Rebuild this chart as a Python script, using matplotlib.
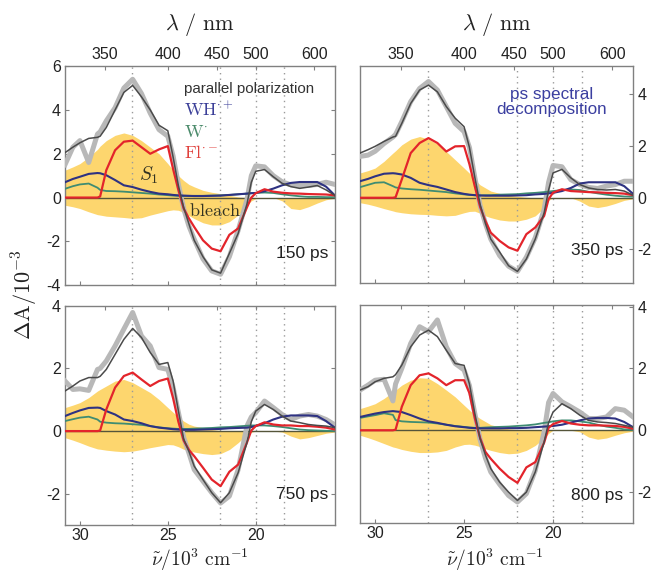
import numpy as np
import matplotlib
matplotlib.use('Agg')
import matplotlib.pyplot as plt

plt.rcParams['mathtext.fontset'] = 'cm'
plt.rcParams['font.family'] = ['Liberation Sans', 'DejaVu Sans']
plt.rcParams['axes.unicode_minus'] = False

# wavenumber grid, 10^3 cm^-1
wavenumber = [30.85, 30.4, 30.0, 29.5, 29.0, 28.85, 28.5, 28.0, 27.5, 27.0, 26.5, 26.0,
              25.5, 25.0, 24.7, 24.4, 24.1, 23.8, 23.5, 23.0, 22.5, 22.0, 21.5, 21.0,
              20.5, 20.25, 20.0, 19.5, 19.0, 18.5, 18.0, 17.5, 17.0, 16.5, 16.0, 15.5]

# ---- 150 ps ----
data_150 = [1.5, 2.3, 2.6, 1.6, 2.9, 3.0, 3.5, 4.1, 5.0, 5.4, 4.75, 3.85, 3.1, 2.8, 1.9, 0.6,
            -0.5, -1.3, -1.9, -2.8, -3.35, -3.5, -2.7, -1.5, -0.1, 1.0, 1.45, 1.4, 1.0, 0.72,
            0.58, 0.55, 0.55, 0.6, 0.7, 0.6]
fit_150 = [2.05, 2.3, 2.5, 2.7, 2.75, 2.8, 3.2, 4.0, 4.8, 5.12, 4.6, 4.0, 3.3, 3.05, 1.85, 0.55,
           -0.45, -1.2, -1.95, -2.7, -3.3, -3.45, -2.55, -1.64, -0.3, 0.7, 1.2, 1.28, 0.95, 0.65,
           0.5, 0.42, 0.48, 0.55, 0.35, 0.1]
fl_150 = [0, 0, 0, 0, 0, 0.05, 1.25, 2.16, 2.55, 2.6, 2.3, 2.0, 2.2, 2.35, 1.3, 0.35,
          -0.5, -0.95, -1.34, -1.95, -2.33, -2.45, -1.7, -1.41, -0.45, 0.0, 0.2, 0.38, 0.27, 0.22,
          0.19, 0.18, 0.16, 0.15, 0.14, 0.1]
wh_150 = [0.7, 0.85, 0.95, 1.08, 1.12, 1.11, 1.02, 0.8, 0.56, 0.48, 0.36, 0.26, 0.18, 0.15, 0.12, 0.1,
          0.09, 0.08, 0.07, 0.07, 0.08, 0.09, 0.12, 0.15, 0.18, 0.2, 0.21, 0.29, 0.41, 0.56,
          0.67, 0.71, 0.71, 0.71, 0.5, 0.1]
w_150 = [0.4, 0.52, 0.6, 0.64, 0.45, 0.35, 0.3, 0.29, 0.27, 0.24, 0.21, 0.18, 0.14, 0.11, 0.09, 0.08,
         0.07, 0.07, 0.08, 0.08, 0.09, 0.1, 0.12, 0.15, 0.18, 0.2, 0.21, 0.23, 0.21, 0.15,
         0.1, 0.06, 0.03, 0.03, 0.02, 0.02]
s1_150 = [1.25, 1.4, 1.55, 1.85, 2.2, 2.35, 2.6, 2.84, 2.95, 2.84, 2.6, 2.3, 2.0, 1.55, 1.25, 1.0,
          0.78, 0.6, 0.49, 0.33, 0.24, 0.18, 0.1, 0.03, 0, 0, 0, 0, 0, 0, 0, 0, 0, 0, 0, 0]
bleach_150 = [-0.35, -0.42, -0.5, -0.65, -0.78, -0.8, -0.85, -0.88, -0.91, -0.95, -0.92, -0.8, -0.7,
              -0.6, -0.56, -0.58, -0.68, -0.82, -0.96, -1.15, -1.25, -1.25, -1.1, -0.8, -0.35,
              -0.15, -0.05, 0, 0, -0.15, -0.5, -0.55, -0.42, -0.25, -0.1, -0.03]

# ---- 350 ps ----
data_350 = [1.6, 1.65, 1.8, 2.1, 2.35, 2.45, 2.95, 3.72, 4.23, 4.5, 4.17, 3.53, 2.88, 2.56, 1.95, 0.8,
            -0.3, -1.0, -1.6, -2.24, -2.65, -2.85, -2.3, -1.55, -0.45, 0.6, 1.25, 1.2, 0.7, 0.51,
            0.4, 0.36, 0.45, 0.51, 0.64, 0.64]
fit_350 = [1.73, 1.86, 1.99, 2.18, 2.35, 2.38, 2.88, 3.65, 4.17, 4.36, 4.1, 3.53, 3.08, 2.75, 1.95, 0.8,
           -0.25, -1.0, -1.6, -2.1, -2.63, -2.85, -2.37, -1.6, -0.58, 0.3, 0.96, 1.1, 0.77, 0.51,
           0.38, 0.32, 0.3, 0.32, 0.26, 0.1]
fl_350 = [0, 0, 0, 0, 0, 0.02, 0.71, 1.73, 2.12, 2.31, 2.12, 1.79, 1.99, 2.0, 1.3, 0.45,
          -0.35, -0.9, -1.35, -1.67, -1.92, -2.05, -1.41, -1.15, -0.7, -0.05, 0.2, 0.33, 0.26, 0.24,
          0.22, 0.21, 0.19, 0.18, 0.16, 0.1]
wh_350 = [0.64, 0.73, 0.83, 0.93, 0.95, 0.94, 0.9, 0.77, 0.58, 0.49, 0.42, 0.32, 0.22, 0.15, 0.12, 0.1,
          0.09, 0.08, 0.08, 0.08, 0.08, 0.09, 0.1, 0.13, 0.15, 0.17, 0.19, 0.26, 0.38, 0.55,
          0.6, 0.6, 0.6, 0.6, 0.45, 0.15]
w_350 = [0.41, 0.5, 0.58, 0.6, 0.45, 0.4, 0.36, 0.33, 0.31, 0.28, 0.25, 0.22, 0.17, 0.13, 0.11, 0.1,
         0.09, 0.1, 0.1, 0.12, 0.13, 0.14, 0.17, 0.19, 0.22, 0.24, 0.26, 0.3, 0.32, 0.3,
         0.23, 0.17, 0.12, 0.08, 0.05, 0.04]
s1_350 = [0.96, 1.05, 1.15, 1.41, 1.73, 1.82, 2.05, 2.27, 2.37, 2.27, 2.08, 1.79, 1.47, 1.15, 0.95, 0.7,
          0.5, 0.38, 0.26, 0.17, 0.1, 0.06, 0.02, 0, 0, 0, 0, 0, 0, 0, 0, 0, 0, 0, 0, 0]
bleach_350 = [-0.19, -0.25, -0.32, -0.42, -0.51, -0.54, -0.58, -0.62, -0.64, -0.65, -0.68, -0.7, -0.68,
              -0.58, -0.53, -0.52, -0.6, -0.7, -0.77, -0.86, -0.9, -0.9, -0.83, -0.7, -0.38,
              -0.1, 0, 0, 0, -0.13, -0.32, -0.38, -0.32, -0.22, -0.1, -0.04]

# ---- 750 ps ----
data_750 = [1.6, 1.33, 1.35, 1.3, 1.97, 2.0, 2.24, 2.72, 3.26, 3.79, 3.04, 2.72, 2.03, 1.97, 1.4, 0.6,
            -0.2, -0.7, -1.23, -1.6, -1.97, -2.3, -2.08, -1.23, 0.16, 0.45, 0.59, 0.96, 0.75, 0.53,
            0.37, 0.48, 0.53, 0.48, 0.37, 0.2]
fit_750 = [1.28, 1.44, 1.6, 1.71, 1.71, 1.75, 1.97, 2.45, 2.93, 3.28, 2.99, 2.51, 2.13, 2.19, 1.6, 0.65,
           -0.25, -0.65, -1.12, -1.55, -1.97, -2.29, -1.97, -1.33, -0.37, 0.3, 0.64, 0.85, 0.69, 0.48,
           0.32, 0.27, 0.21, 0.18, 0.16, 0.11]
fl_750 = [0, 0, 0, 0, 0, 0.02, 0.69, 1.39, 1.76, 1.87, 1.65, 1.44, 1.6, 1.68, 1.05, 0.3,
          -0.3, -0.6, -0.8, -1.17, -1.55, -1.76, -1.3, -1.07, -0.37, 0.02, 0.16, 0.28, 0.21, 0.18,
          0.18, 0.16, 0.16, 0.14, 0.11, 0.05]
wh_750 = [0.48, 0.58, 0.66, 0.74, 0.75, 0.74, 0.64, 0.53, 0.37, 0.32, 0.25, 0.16, 0.11, 0.08, 0.06, 0.05,
          0.04, 0.04, 0.04, 0.05, 0.06, 0.07, 0.09, 0.1, 0.11, 0.13, 0.16, 0.25, 0.37, 0.46,
          0.5, 0.5, 0.5, 0.48, 0.32, 0.11]
w_750 = [0.32, 0.38, 0.43, 0.46, 0.37, 0.3, 0.27, 0.25, 0.24, 0.22, 0.2, 0.16, 0.12, 0.09, 0.08, 0.07,
         0.07, 0.07, 0.08, 0.09, 0.1, 0.12, 0.13, 0.15, 0.17, 0.18, 0.18, 0.18, 0.16, 0.13,
         0.09, 0.05, 0.03, 0.02, 0.01, 0.0]
s1_750 = [0.75, 0.83, 0.91, 1.07, 1.28, 1.33, 1.44, 1.6, 1.65, 1.55, 1.39, 1.23, 1.01, 0.75, 0.6, 0.45,
          0.32, 0.22, 0.16, 0.11, 0.05, 0.02, 0, 0, 0, 0, 0, 0, 0, 0, 0, 0, 0, 0, 0, 0]
bleach_750 = [-0.21, -0.29, -0.37, -0.48, -0.57, -0.58, -0.61, -0.64, -0.66, -0.64, -0.59, -0.53, -0.48,
              -0.43, -0.44, -0.5, -0.58, -0.63, -0.67, -0.72, -0.75, -0.72, -0.59, -0.37, -0.11,
              -0.04, 0, 0, 0, -0.03, -0.16, -0.25, -0.21, -0.14, -0.07, -0.03]

# ---- 800 ps ----
data_800 = [1.3, 1.46, 1.62, 1.65, 0.95, 1.5, 2.0, 2.81, 3.35, 3.19, 3.57, 2.7, 2.16, 1.95, 1.45, 0.55,
            -0.3, -0.9, -1.35, -1.75, -2.11, -2.32, -2.05, -1.3, -0.05, 0.9, 1.19, 0.92, 0.76, 0.59,
            0.38, 0.38, 0.43, 0.7, 0.65, 0.43]
fit_800 = [1.3, 1.41, 1.57, 1.68, 1.73, 1.8, 2.11, 2.7, 3.08, 3.24, 3.03, 2.59, 2.16, 2.1, 1.5, 0.55,
           -0.27, -0.8, -1.24, -1.68, -2.0, -2.27, -2.0, -1.35, -0.38, 0.25, 0.59, 0.86, 0.7, 0.49,
           0.32, 0.27, 0.25, 0.22, 0.16, 0.1]
fl_800 = [0, 0, 0, 0, 0, 0.02, 0.76, 1.46, 1.78, 1.84, 1.68, 1.46, 1.62, 1.62, 1.2, 0.4,
          -0.25, -0.7, -0.92, -1.24, -1.51, -1.7, -1.2, -1.03, -0.4, 0.08, 0.2, 0.3, 0.22, 0.18,
          0.16, 0.16, 0.15, 0.14, 0.11, 0.05]
wh_800 = [0.43, 0.49, 0.54, 0.59, 0.62, 0.61, 0.59, 0.49, 0.38, 0.29, 0.24, 0.18, 0.13, 0.1, 0.08, 0.07,
          0.06, 0.06, 0.06, 0.06, 0.07, 0.07, 0.08, 0.1, 0.12, 0.13, 0.14, 0.18, 0.25, 0.32,
          0.38, 0.4, 0.4, 0.38, 0.27, 0.1]
w_800 = [0.4, 0.45, 0.49, 0.55, 0.5, 0.33, 0.29, 0.27, 0.26, 0.25, 0.22, 0.18, 0.14, 0.11, 0.09, 0.08,
         0.08, 0.09, 0.1, 0.11, 0.12, 0.14, 0.16, 0.19, 0.24, 0.26, 0.29, 0.32, 0.32, 0.29,
         0.25, 0.18, 0.12, 0.08, 0.03, 0.01]
s1_800 = [0.7, 0.78, 0.86, 1.03, 1.24, 1.3, 1.46, 1.62, 1.7, 1.68, 1.51, 1.3, 1.08, 0.81, 0.65, 0.5,
          0.38, 0.28, 0.18, 0.11, 0.05, 0.02, 0, 0, 0, 0, 0, 0, 0, 0, 0, 0, 0, 0, 0, 0]
bleach_800 = [-0.16, -0.24, -0.32, -0.43, -0.54, -0.56, -0.62, -0.68, -0.72, -0.72, -0.7, -0.65, -0.54,
              -0.46, -0.45, -0.48, -0.53, -0.6, -0.65, -0.72, -0.76, -0.74, -0.65, -0.49, -0.25,
              -0.1, 0, 0, 0, -0.05, -0.22, -0.29, -0.25, -0.16, -0.08, -0.03]

delays = ['150 ps', '350 ps', '750 ps', '800 ps']
lambda_ticks = [350, 400, 450, 500, 600]
wn_ticks = [30, 25, 20]
marker_lines = [27.05, 22.05, 20.0, 18.4]

YELLOW = '#fdd66e'
GREY_DATA = '#b8b8b8'
FIT = '#4a4a4a'
RED = '#e3242b'
BLUE = '#2e3282'
GREEN = '#3f8c72'
SPINE = '#808080'
TXT = '#222222'

fig = plt.figure(figsize=(6.55, 5.75), dpi=100)
positions = [[0.0992, 0.504, 0.412, 0.381],
             [0.5496, 0.5078, 0.417, 0.3774],
             [0.0992, 0.087, 0.412, 0.381],
             [0.5496, 0.0904, 0.417, 0.379]]
ylims = [(-4, 6), (-3.3, 5.1), (-3, 4), (-3, 4.05)]
yticks = [[-4, -2, 0, 2, 4, 6], [-2, 0, 2, 4], [-2, 0, 2, 4], [-2, 0, 2, 4]]
series = [(data_150, fit_150, fl_150, wh_150, w_150, s1_150, bleach_150),
          (data_350, fit_350, fl_350, wh_350, w_350, s1_350, bleach_350),
          (data_750, fit_750, fl_750, wh_750, w_750, s1_750, bleach_750),
          (data_800, fit_800, fl_800, wh_800, w_800, s1_800, bleach_800)]
label_pos = [(0.975, 0.146), (0.963, 0.152), (0.975, 0.137), (0.963, 0.128)]

axes = []
for i in range(4):
    ax = fig.add_axes(positions[i])
    axes.append(ax)
    data, fit, fl, wh, w, s1, bl = series[i]
    ax.fill_between(wavenumber, bl, s1, color=YELLOW, lw=0, zorder=1)
    ax.axhline(0, color='#55553a', lw=1.0, zorder=2)
    for xv in marker_lines:
        ax.axvline(xv, color='#9a9a9a', ls=(0, (1, 3)), lw=1.0, zorder=1.5)
    ax.plot(wavenumber, data, color=GREY_DATA, lw=3.6, zorder=3, solid_joinstyle='round')
    ax.plot(wavenumber, w, color=GREEN, lw=1.3, zorder=4)
    ax.plot(wavenumber, wh, color=BLUE, lw=1.5, zorder=4)
    ax.plot(wavenumber, fl, color=RED, lw=1.6, zorder=5)
    ax.plot(wavenumber, fit, color=FIT, lw=1.1, zorder=6)
    ax.set_xlim(30.85, 15.5)
    ax.set_ylim(*ylims[i])
    ax.set_yticks(yticks[i])
    ax.set_xticks(wn_ticks)
    for s in ax.spines.values():
        s.set_color(SPINE)
        s.set_linewidth(1.0)
    ax.tick_params(direction='in', length=3, color=SPINE, labelsize=11.5,
                   labelcolor=TXT, pad=3, top=False, right=(i % 2 == 0), left=(i % 2 == 0))
    ax.tick_params(axis='x', pad=2)
    if i % 2 == 1:
        ax.yaxis.tick_right()
        ax.tick_params(axis='y', direction='in', length=3, color=SPINE, pad=3)
    if i < 2:
        ax.tick_params(labelbottom=False)
    # top wavelength axis
    tw = ax.twiny()
    tw.set_xlim(30.85, 15.5)
    tw.set_xticks([1e4 / l for l in lambda_ticks])
    tw.set_xticklabels([str(l) for l in lambda_ticks] if i < 2 else [])
    tw.tick_params(direction='in', length=3, color=SPINE, labelsize=11.5,
                   labelcolor=TXT, pad=3)
    for s in tw.spines.values():
        s.set_visible(False)
    ax.text(label_pos[i][0], label_pos[i][1], delays[i], transform=ax.transAxes,
            ha='right', va='center', fontsize=12.5, color=TXT, zorder=10)

ax0 = axes[0]
ax0.text(20.4, 4.97, 'parallel polarization', ha='center', va='center',
         fontsize=10.9, color='#333333', zorder=10)
ax0.text(24.07, 3.98, r'$\mathrm{WH}^{\cdot +}$', ha='left', va='center',
         fontsize=13, color='#3b3f98', zorder=10)
ax0.text(24.07, 2.95, r'$\mathrm{W}^{\cdot}$', ha='left', va='center',
         fontsize=13, color='#4a8a6a', zorder=10)
ax0.text(24.07, 2.0, r'$\mathrm{Fl}^{\cdot -}$', ha='left', va='center',
         fontsize=13, color='#e0403c', zorder=10)
ax0.text(26.1, 1.02, r'$S_1$', ha='center', va='center', fontsize=14,
         color='#333322', zorder=10)
ax0.text(22.34, -0.62, r'$\mathrm{bleach}$', ha='center', va='center', fontsize=13,
         color='#333322', zorder=10)

axes[1].text(0.7, 0.835, 'ps spectral\ndecomposition', transform=axes[1].transAxes,
             ha='center', va='center', fontsize=12.3, color='#3b3fa0',
             linespacing=1.05, zorder=10)

fig.text(0.305, 0.957, r'$\lambda\ /\ \mathrm{nm}$', ha='center', va='center', fontsize=16, color=TXT)
fig.text(0.758, 0.957, r'$\lambda\ /\ \mathrm{nm}$', ha='center', va='center', fontsize=16, color=TXT)
fig.text(0.305, 0.003, r'$\tilde{\nu}/10^3\ \mathrm{cm}^{-1}$', ha='center', va='bottom', fontsize=14, color=TXT)
fig.text(0.756, 0.003, r'$\tilde{\nu}/10^3\ \mathrm{cm}^{-1}$', ha='center', va='bottom', fontsize=14, color=TXT)
fig.text(0.038, 0.487, r'$\Delta\mathrm{A}/10^{-3}$', ha='center', va='center', rotation=90,
         fontsize=16, color=TXT)

fig.savefig('out.png', dpi=100)
